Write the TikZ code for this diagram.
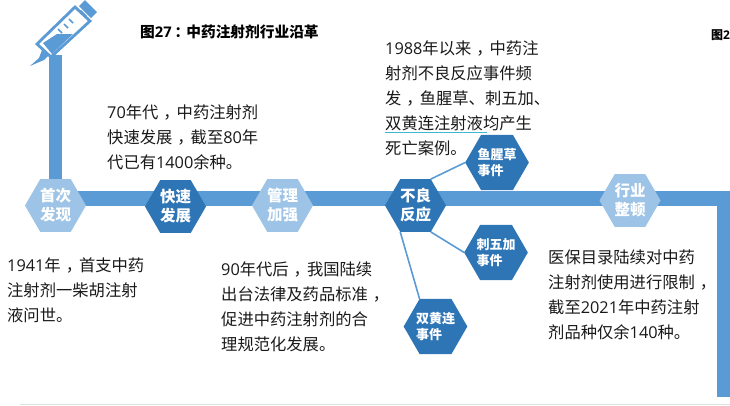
\documentclass[tikz,border=0pt]{standalone}
\usepackage{fontspec}
\setmainfont{Noto Sans CJK SC}
\newfontfamily\digitfont{Open Sans}
\usepackage{tikz}
\usetikzlibrary{shapes.geometric}
\definecolor{barblue}{HTML}{5B9BD5}
\definecolor{lightblue}{HTML}{9DC3E6}
\definecolor{darkblue}{HTML}{2E75B6}
\definecolor{linkcyan}{HTML}{3DB8D0}
\newcommand{\dg}[1]{{\digitfont #1}}
\newcommand{\cma}{\kern5pt，\kern-3pt}
\tikzset{
  hexbase/.style={regular polygon, regular polygon sides=6, minimum size=61pt, inner sep=0pt, outer sep=0pt, text=white, align=center, font=\fontsize{15.5}{19}\selectfont\bfseries},
  hexlight/.style={hexbase, fill=lightblue},
  hexdark/.style={hexbase, fill=darkblue},
  hexsmall/.style={hexbase, fill=darkblue, align=left, font=\fontsize{13}{16}\selectfont\bfseries},
  desc/.style={anchor=west, align=left, inner sep=0pt, text=black!90, font=\fontsize{16.3}{25}\selectfont},
  titlebar/.style={anchor=west, inner sep=0pt, font=\fontsize{14.7}{16}\selectfont\bfseries},
  barline/.style={draw=barblue, line width=15pt},
  stemline/.style={draw=barblue, line width=13pt},
  linkline/.style={draw=barblue, line width=1.6pt}
}
\begin{document}
\begin{tikzpicture}[x=1pt, y=-1pt]
\useasboundingbox (0,0) rectangle (730,405);
\coordinate (stemtop) at (55.5,55);
\coordinate (stemfoot) at (55.5,198.5);
\coordinate (barright) at (730,198.5);
\coordinate (railtop) at (723.5,191);
\coordinate (railfoot) at (723.5,397);
\coordinate (rulestart) at (20,404);
\coordinate (ruleend) at (730,404);
\coordinate (markstart) at (385,132.6);
\coordinate (markend) at (487,132.6);
\draw[stemline] (stemtop) -- (stemfoot);
\draw[barline] (stemfoot) -- (barright);
\draw[stemline] (railtop) -- (railfoot);
\draw[draw=black!12, line width=0.8pt] (rulestart) -- (ruleend);
\draw[draw=linkcyan, line width=0.9pt] (markstart) -- (markend);
\fill[barblue] (79,6) -- (85,0) -- (97,12) -- (91,18) -- cycle;
\draw[barblue, line width=3pt] (80,11) -- (86,17);
\draw[barblue, line width=2.8pt, fill=white, line join=miter] (37,44) -- (75,7) -- (90,21) -- (51,57) -- cycle;
\fill[barblue] (43,43) -- (57,34) -- (73,34) -- (52,54) -- cycle;
\fill[barblue] (30,66) -- (44,60) -- (49,55) -- (42,50) -- (39,58) -- cycle;
\draw[barblue, line width=1.6pt] (58,29) -- (62,33) (64,24) -- (68,28) (69,19) -- (73,23);
\node[hexlight] (first) at (55.5,205.5) {首次\\发现};
\node[hexdark] (rapid) at (175.5,206.5) {快速\\发展};
\node[hexlight] (manage) at (282.5,205.5) {管理\\加强};
\node[hexdark] (adverse) at (415.5,205.5) {不良\\反应};
\node[hexlight] (rectify) at (630,200.5) {行业\\整顿};
\node[hexsmall] (fish) at (497,162.5) {鱼腥草\\事件};
\node[hexsmall] (wujia) at (496,252.5) {刺五加\\事件};
\node[hexsmall] (shuang) at (435.5,326.5) {双黄连\\事件};
\draw[linkline] (adverse.60) -- (fish.180);
\draw[linkline] (adverse.300) -- (wujia.180);
\draw[linkline] (adverse.240) -- (shuang.120);
\node[titlebar] (title) at (140,32) {图\dg{27}\kern3pt：\kern-3pt 中药注射剂行业沿革};
\node[titlebar, font=\fontsize{12}{14}\selectfont\bfseries] (nexttitle) at (711,35) {图\dg{2}};
\node[desc] (text70) at (107,137) {\dg{70}年代\cma 中药注射剂\\快速发展\cma 截至\dg{80}年\\代已有\dg{1400}余种。};
\node[desc] (text88) at (385,98) {\dg{1988}年以来\cma 中药注\\射剂不良反应事件频\\发\cma 鱼腥草、刺五加、\\双黄连注射液均产生\\死亡案例。};
\node[desc] (text41) at (7,290) {\dg{1941}年\cma 首支中药\\注射剂一柴胡注射\\液问世。};
\node[desc] (text90) at (221,306.5) {\dg{90}年代后\cma 我国陆续\\出台法律及药品标准\cma\\促进中药注射剂的合\\理规范化发展。};
\node[desc] (text21) at (548,294.5) {医保目录陆续对中药\\注射剂使用进行限制\cma\\截至\dg{2021}年中药注射\\剂品种仅余\dg{140}种。};
\end{tikzpicture}
\end{document}
